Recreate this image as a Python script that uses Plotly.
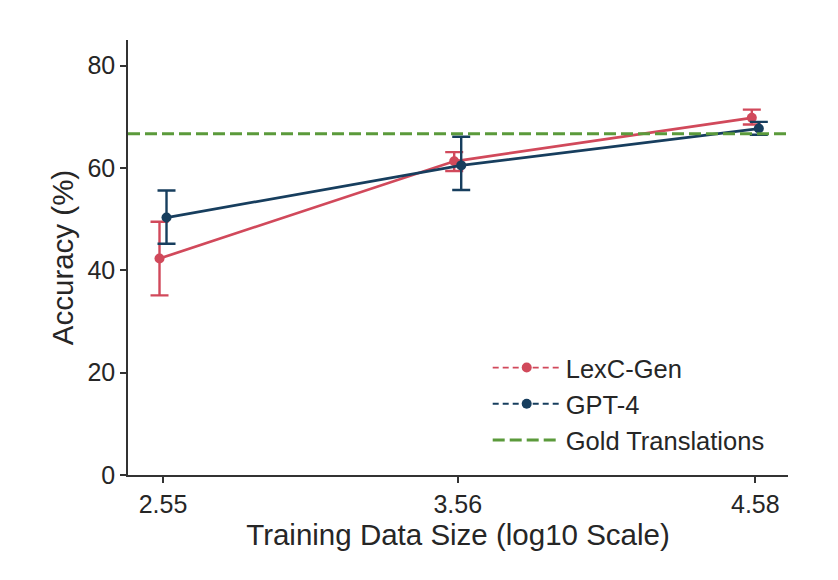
import plotly.graph_objects as go

# ---- data ----
x_values = [2.55, 3.56, 4.58]
tick_labels = ["2.55", "3.56", "4.58"]

lexc_mean = [42.3, 61.3, 69.8]
lexc_upper = [49.5, 63.1, 71.4]
lexc_lower = [35.1, 59.4, 68.5]

gpt4_mean = [50.3, 60.5, 67.7]
gpt4_upper = [55.6, 66.1, 69.0]
gpt4_lower = [45.2, 55.7, 66.5]

gold_value = 66.7

# ---- style ----
RED = "#d1495b"
NAVY = "#173e5e"
GREEN = "#5b9a3b"
TXT = "#262626"
DODGE = 0.012
FONT = "Liberation Sans, Arial, sans-serif"

fig = go.Figure()

def add_series(name, mean, upper, lower, color, offset):
    xs = [x + offset for x in x_values]
    fig.add_trace(go.Scatter(
        x=xs, y=mean, mode="lines+markers", name=name, showlegend=False,
        line=dict(color=color, width=2.7),
        marker=dict(color=color, size=10),
        error_y=dict(type="data", symmetric=False,
                     array=[u - m for u, m in zip(upper, mean)],
                     arrayminus=[m - l for m, l in zip(mean, lower)],
                     color=color, thickness=2.4, width=9),
    ))

add_series("LexC-Gen", lexc_mean, lexc_upper, lexc_lower, RED, -DODGE)
add_series("GPT-4", gpt4_mean, gpt4_upper, gpt4_lower, NAVY, DODGE)

# legend entries
for name, color in [("LexC-Gen", RED), ("GPT-4", NAVY)]:
    fig.add_trace(go.Scatter(
        x=[None], y=[None], mode="lines+markers", name=name,
        line=dict(color=color, width=1.8, dash="6px,4px"),
        marker=dict(color=color, size=10),
    ))
fig.add_trace(go.Scatter(
    x=[None], y=[None], mode="lines", name="Gold Translations",
    line=dict(color=GREEN, width=3, dash="12px,5px"),
))

fig.add_shape(type="line", xref="paper", x0=0, x1=1, yref="y",
              y0=gold_value, y1=gold_value,
              line=dict(color=GREEN, width=3, dash="12px,5px"))

axis_common = dict(
    showgrid=False, zeroline=False, showline=True, linecolor="#333333",
    linewidth=1.5, ticks="outside", ticklen=6, tickwidth=1.5,
    tickcolor="#333333", tickfont=dict(size=25, color=TXT, family=FONT),
    mirror=False,
)

fig.update_layout(
    width=838, height=580,
    margin=dict(l=128, r=50, t=40, b=105),
    paper_bgcolor="white", plot_bgcolor="white",
    font=dict(family=FONT, color=TXT),
    xaxis=dict(range=[2.43, 4.692], tickvals=x_values, ticktext=tick_labels,
               title=dict(text="Training Data Size (log10 Scale)",
                          font=dict(size=29.5, color=TXT, family=FONT), standoff=8),
               **axis_common),
    yaxis=dict(range=[0, 85], tickvals=[0, 20, 40, 60, 80],
               title=dict(text="Accuracy (%)",
                          font=dict(size=29.5, color=TXT, family=FONT), standoff=5),
               **axis_common),
    legend=dict(x=0.545, y=0.30, xanchor="left", yanchor="top",
                bgcolor="rgba(0,0,0,0)", font=dict(size=25.5, color=TXT, family=FONT),
                itemwidth=68, tracegroupgap=0),
)

fig.write_html("out.html")
